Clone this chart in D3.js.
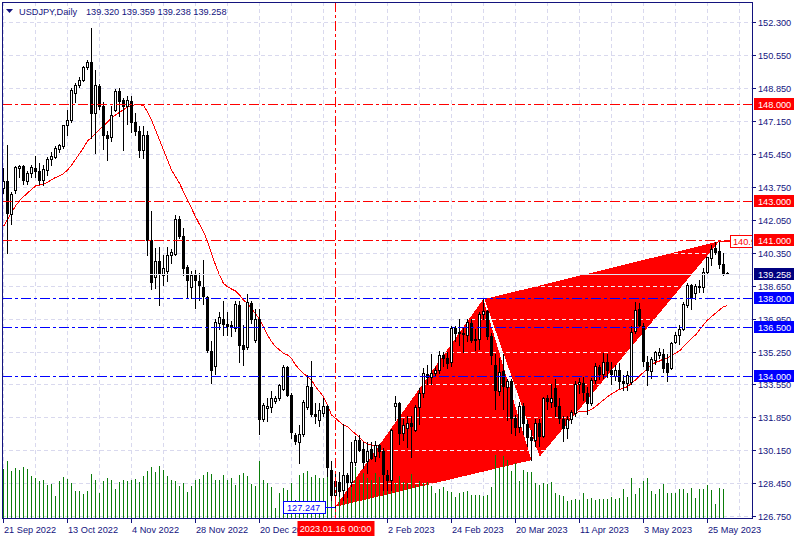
<!DOCTYPE html>
<html><head><meta charset="utf-8">
<script src="https://cdn.jsdelivr.net/npm/d3@7"></script>
<style>
html,body{margin:0;padding:0;background:#fff;}
svg{display:block;}
text{font-family:"Liberation Sans",Arial,sans-serif;font-size:9.2px;}
</style></head><body>
<svg id="c" width="798" height="540"></svg>
<script>
// ---------- DATA ----------
const symbolTitle = "USDJPY,Daily";
const dates = [
"2022-09-21","2022-09-22","2022-09-23","2022-09-26","2022-09-27","2022-09-28","2022-09-29","2022-09-30",
"2022-10-03","2022-10-04","2022-10-05","2022-10-06","2022-10-07","2022-10-10","2022-10-11","2022-10-12","2022-10-13","2022-10-14","2022-10-17","2022-10-18","2022-10-19","2022-10-20","2022-10-21","2022-10-24","2022-10-25","2022-10-26","2022-10-27","2022-10-28","2022-10-31",
"2022-11-01","2022-11-02","2022-11-03","2022-11-04","2022-11-07","2022-11-08","2022-11-09","2022-11-10","2022-11-11","2022-11-14","2022-11-15","2022-11-16","2022-11-17","2022-11-18","2022-11-21","2022-11-22","2022-11-23","2022-11-24","2022-11-25","2022-11-28","2022-11-29","2022-11-30",
"2022-12-01","2022-12-02","2022-12-05","2022-12-06","2022-12-07","2022-12-08","2022-12-09","2022-12-12","2022-12-13","2022-12-14","2022-12-15","2022-12-16","2022-12-19","2022-12-20","2022-12-21","2022-12-22","2022-12-23","2022-12-26","2022-12-27","2022-12-28","2022-12-29","2022-12-30",
"2023-01-02","2023-01-03","2023-01-04","2023-01-05","2023-01-06","2023-01-09","2023-01-10","2023-01-11","2023-01-12","2023-01-13","2023-01-16","2023-01-17","2023-01-18","2023-01-19","2023-01-20","2023-01-23","2023-01-24","2023-01-25","2023-01-26","2023-01-27","2023-01-30","2023-01-31",
"2023-02-01","2023-02-02","2023-02-03","2023-02-06","2023-02-07","2023-02-08","2023-02-09","2023-02-10","2023-02-13","2023-02-14","2023-02-15","2023-02-16","2023-02-17","2023-02-20","2023-02-21","2023-02-22","2023-02-23","2023-02-24","2023-02-27","2023-02-28",
"2023-03-01","2023-03-02","2023-03-03","2023-03-06","2023-03-07","2023-03-08","2023-03-09","2023-03-10","2023-03-13","2023-03-14","2023-03-15","2023-03-16","2023-03-17","2023-03-20","2023-03-21","2023-03-22","2023-03-23","2023-03-24","2023-03-27","2023-03-28","2023-03-29","2023-03-30","2023-03-31",
"2023-04-03","2023-04-04","2023-04-05","2023-04-06","2023-04-07","2023-04-10","2023-04-11","2023-04-12","2023-04-13","2023-04-14","2023-04-17","2023-04-18","2023-04-19","2023-04-20","2023-04-21","2023-04-24","2023-04-25","2023-04-26","2023-04-27","2023-04-28",
"2023-05-01","2023-05-02","2023-05-03","2023-05-04","2023-05-05","2023-05-08","2023-05-09","2023-05-10","2023-05-11","2023-05-12","2023-05-15","2023-05-16","2023-05-17","2023-05-18","2023-05-19","2023-05-22","2023-05-23","2023-05-24","2023-05-25","2023-05-26","2023-05-29","2023-05-30","2023-05-31",
"2023-06-01"];

const open = [
143.70,144.05,142.35,143.60,144.70,144.80,144.05,144.45,144.72,144.55,
144.10,144.60,145.15,145.30,145.70,145.85,146.90,147.20,148.55,149.00,
149.25,149.90,150.15,147.55,148.95,147.90,146.40,146.30,147.70,148.70,
148.20,147.90,148.15,147.10,146.60,145.65,146.40,141.00,139.10,139.90,
139.20,139.40,140.20,140.30,142.10,141.20,139.60,138.60,139.25,138.90,
138.60,138.05,135.30,134.50,136.70,136.90,136.65,136.55,136.45,137.65,
135.60,135.50,137.75,135.85,136.90,131.75,132.35,132.40,132.70,132.85,
133.30,134.45,133.00,130.95,130.60,131.00,132.40,133.40,132.05,131.70,
132.10,132.45,129.15,127.85,128.50,128.10,128.90,128.50,129.55,130.70,
130.20,129.60,130.20,129.85,130.45,130.10,128.90,128.65,132.45,132.60,
131.05,131.30,131.55,131.20,132.40,133.10,134.10,133.95,134.15,134.30,
135.05,134.90,134.70,136.45,136.25,136.20,136.10,136.70,135.85,135.90,
137.20,137.35,136.05,134.55,133.20,134.25,133.40,133.75,131.80,131.35,
132.45,131.50,130.85,130.70,131.55,130.90,132.85,132.65,133.35,132.45,
131.75,131.30,131.75,132.10,133.60,133.65,133.10,132.60,133.80,134.45,
134.10,134.70,134.30,134.00,134.30,133.75,133.65,133.70,136.30,137.45,
136.55,134.70,134.25,134.80,135.05,135.10,134.65,134.40,135.75,136.10,
136.40,137.65,138.70,138.25,138.55,138.60,139.35,140.05,140.60,140.45,
139.75,139.320];

const high = [
144.70,145.90,143.45,144.80,144.85,144.85,144.55,144.85,145.35,144.95,
144.85,145.30,145.55,145.85,145.95,146.95,147.70,148.85,149.10,149.40,
149.95,150.30,151.95,149.75,149.05,148.10,146.60,147.90,148.80,148.85,
148.30,148.40,148.40,147.55,146.85,146.85,146.60,142.50,140.60,140.65,
140.20,140.65,140.55,142.30,142.25,141.60,139.70,139.40,139.45,139.30,
139.95,138.10,135.80,136.90,137.30,137.85,137.30,136.80,137.85,137.85,
136.60,138.20,137.85,137.45,137.45,132.60,132.85,133.20,132.95,133.60,
134.55,134.50,133.10,131.05,131.45,132.75,134.05,134.75,132.60,132.60,
132.85,132.50,129.60,128.95,129.05,131.50,129.00,130.60,130.90,130.95,
130.60,130.60,130.60,130.65,130.50,130.30,129.15,131.25,132.95,132.65,
131.75,131.90,131.90,132.50,133.35,134.40,134.55,135.10,134.45,135.30,
135.20,135.25,136.55,136.55,136.90,136.50,136.95,136.95,136.40,137.30,
137.95,137.40,136.20,135.10,134.90,135.10,133.85,133.85,132.00,132.65,
132.60,131.70,131.20,131.75,131.75,132.90,133.00,133.60,133.85,132.85,
131.90,131.90,132.25,133.75,133.90,133.95,133.40,133.90,134.65,134.55,
135.15,135.10,134.70,134.55,134.65,134.05,134.25,136.55,137.80,137.75,
136.70,135.00,134.98,135.27,135.45,135.37,135.10,135.76,136.25,136.60,
137.80,138.76,138.75,138.75,138.95,139.54,140.14,140.75,140.90,140.93,
140.35,139.359];

const low = [
143.40,140.35,141.80,143.40,144.25,143.90,143.90,144.25,144.25,143.90,
143.85,144.35,144.85,145.20,145.55,145.75,146.40,147.10,148.10,148.90,
149.20,149.80,146.25,145.50,147.75,145.70,145.10,146.10,147.65,147.40,
145.65,147.00,146.55,146.40,145.30,145.25,140.20,138.45,138.50,137.65,
138.70,138.90,139.80,140.20,141.10,139.20,138.00,138.00,137.50,137.90,
137.70,135.25,133.65,134.10,136.40,136.10,136.10,136.05,136.30,134.70,
134.55,135.40,136.70,135.75,131.00,131.65,131.65,132.15,132.60,132.75,
133.25,132.95,130.80,130.50,129.50,130.90,132.30,131.95,131.55,131.40,
131.90,128.85,127.60,127.247,127.80,127.60,127.75,128.30,129.40,130.10,
129.25,129.00,129.70,129.60,129.80,128.10,128.10,128.10,131.70,130.50,
130.70,130.35,129.80,131.15,131.50,132.90,133.60,133.60,134.00,134.15,
134.50,134.40,134.50,135.80,135.60,135.25,135.80,135.75,135.35,135.40,
136.90,135.90,134.60,132.30,133.00,132.30,131.70,131.05,130.95,131.10,
131.00,130.40,129.65,130.40,130.40,130.85,132.30,132.40,131.90,131.55,
130.65,130.80,131.55,131.90,133.10,132.75,132.05,132.50,133.65,133.85,
133.90,133.95,133.60,133.80,133.35,133.25,133.25,133.60,136.20,136.55,
134.50,133.50,133.90,134.60,134.90,134.20,133.75,134.35,135.70,135.65,
136.35,137.55,137.45,137.95,138.30,138.30,139.30,139.70,140.30,139.55,
139.20,139.238];

const close = [
144.05,142.37,143.35,144.75,144.80,144.10,144.45,144.75,144.55,144.10,
144.65,145.15,145.35,145.75,145.90,146.90,147.20,148.75,149.00,149.25,
149.90,150.15,147.55,149.00,147.90,146.40,146.25,147.45,148.70,148.15,
147.90,148.20,147.10,146.60,145.65,146.40,141.00,138.85,139.90,139.30,
139.55,140.20,140.40,142.10,141.20,139.55,138.95,139.20,138.95,138.70,
138.10,135.35,134.30,136.75,137.05,136.65,136.55,136.60,137.70,135.60,
135.40,137.80,136.95,136.90,131.75,132.50,132.45,132.85,132.85,133.50,
134.45,133.00,131.10,130.65,131.00,132.65,133.45,132.05,131.90,132.25,
132.45,129.30,127.85,128.55,128.05,128.90,128.50,129.55,130.70,130.15,
129.55,130.10,129.75,130.45,130.10,128.95,128.65,131.20,132.60,131.05,
131.45,131.55,131.40,132.40,133.10,134.15,133.95,134.15,134.30,135.05,
134.90,134.65,136.45,136.20,136.20,136.15,136.75,135.85,135.90,137.20,
137.35,136.05,135.05,133.25,134.20,133.45,133.75,131.80,131.35,132.45,
131.55,130.85,130.70,131.55,130.90,132.85,132.70,132.85,132.45,131.80,
131.30,131.75,132.15,133.60,133.70,133.15,132.60,133.80,134.50,134.10,
134.70,134.30,134.10,134.30,133.75,133.65,134.05,136.25,137.40,136.60,
134.75,134.30,134.85,135.20,135.25,134.40,134.20,135.70,136.10,136.40,
137.70,138.70,138.00,138.65,138.63,139.35,140.10,140.55,140.40,139.75,
139.30,139.258];

// tick volume (read as bar heights, arbitrary units)
const volume = [
50,58,48,51,49,52,50,43,41,38, 39,34,35,23,38,42,40,36,28,28,
25,28,45,39,26,38,41,39,30,37, 39,38,39,40,37,43,48,52,47,53,
49,43,39,38,33,36,27,33,39,40, 44,47,45,39,39,44,39,41,34,44,
46,43,35,33,58,39,36,32,11,26, 31,29,36,19,44,46,48,42,44,41,
41,44,49,47,39,54,39,46,52,39, 46,41,39,46,42,37,37,39,36,43,
37,36,45,34,38,36,37,33,26,30, 32,28,27,22,26,27,28,24,24,24,
23,24,32,64,51,63,59,48,56,38, 49,47,47,36,34,36,35,37,26,24,
23,18,19,20,19,26,20,21,19,20, 20,20,22,20,21,30,22,41,25,31,
38,41,28,25,30,35,26,26,26,30, 30,26,31,21,30,30,34,29,15,31,
30,1];

// moving average (red line); null where it runs hidden under the pattern
const maValues = [
141.70,142.05,142.40,142.75,143.02,143.23,143.42,143.60,143.78,143.83,
143.88,143.97,144.10,144.22,144.30,144.42,144.60,144.85,145.15,145.45,
145.75,146.10,146.28,146.50,146.68,146.88,147.08,147.27,147.44,147.58,
147.72,147.84,147.92,147.98,147.97,147.93,147.60,147.18,146.67,146.15,
145.64,145.12,144.61,144.26,143.92,143.49,143.06,142.63,142.20,141.80,
141.43,140.91,140.31,139.71,139.19,138.76,138.59,138.47,138.37,138.16,
137.90,137.73,137.47,137.20,136.90,136.50,136.10,135.76,135.50,135.33,
135.16,135.07,134.90,134.55,134.33,134.12,133.95,133.78,133.44,133.18,
132.92,132.49,131.98,131.81,131.63,131.46,131.38,131.17,131.00,130.83,
130.60,130.48,130.43,130.43,130.40,130.43,null,null,null,null,
null,null,null,null,null,null,null,null,null,null,
null,null,null,null,null,null,null,null,null,null,
null,null,null,null,null,null,null,null,null,null,
null,null,null,null,null,null,null,null,null,null,
null,null,null,132.10,132.15,132.15,132.18,132.27,132.41,132.58,
132.75,132.92,133.06,133.18,133.30,133.36,133.44,133.61,133.78,133.98,
134.18,134.38,134.55,134.69,134.76,134.86,134.93,135.04,135.16,135.28,
135.50,135.72,135.93,136.10,136.36,136.62,136.87,137.05,137.22,137.39,
137.56,137.61];

// price axis
const yTickValues = [152.25,150.55,148.85,147.15,145.45,143.75,142.05,140.35,138.65,136.95,135.25,133.55,131.85,130.15,128.45,126.75];
const yTickLabels = ["152.300","150.550","148.850","147.150","145.450","143.750","142.050","140.350","138.650","136.950","135.250","133.550","131.850","130.150","128.450","126.750"];
// time axis
const xTickDates = ["2022-09-21","2022-10-13","2022-11-04","2022-11-28","2022-12-20","2023-02-02","2023-02-24","2023-03-20","2023-04-11","2023-05-03","2023-05-25"];
const xTickLabels = ["21 Sep 2022","13 Oct 2022","4 Nov 2022","28 Nov 2022","20 Dec 2022","2 Feb 2023","24 Feb 2023","20 Mar 2023","11 Apr 2023","3 May 2023","25 May 2023"];

// horizontal levels
const redLevels = [148.0, 143.0, 141.0];
const blueLevels = [138.0, 136.5, 134.0];
const redLevelLabels = ["148.000","143.000","141.000"];
const blueLevelLabels = ["138.000","136.500","134.000"];

// vertical line
const vlineDate = "2023-01-16";
const vlineLabel = "2023.01.16 00:00";

// pattern triangles (bar index, price)
const tri1Bars = [83, 120, 132];
const tri1Prices = [127.247, 137.95, 129.65];
const tri2Bars = [120.3, 179, 134.1];
const tri2Prices = [137.95, 140.93, 129.83];

// price labels
const leftLabelBar = 83, leftLabelPrice = 127.247, leftLabelText = "127.247";
const rightLabelBar = 179, rightLabelPrice = 140.93, rightLabelText = "140.930";

// ---------- DRAW ----------
const n = dates.length;
const PL = 2, PR = 752, PT = 2, PB = 519;
const navy = "#13137e";
const x = d3.scaleLinear().domain([0, n - 1]).range([3.3, 3.3 + 4 * (n - 1)]);
const y = d3.scaleLinear().domain([126.75, 152.25]).range([516.4, 21.7]);
const vy = d3.scaleLinear().domain([0, 100]).range([PB, PB - 100]);
const idxOf = d => dates.indexOf(d);
const px = i => Math.round(x(i));
const py = p => Math.round(y(p));

const svg = d3.select("#c");
svg.append("rect").attr("width", 798).attr("height", 540).attr("fill", "#fff");
const defs = svg.append("defs");
defs.append("clipPath").attr("id", "plotClip").append("rect")
  .attr("x", PL).attr("y", PT).attr("width", PR - PL).attr("height", PB - PT);

const triangles = [
  tri1Bars.map((b, k) => [b, tri1Prices[k]]),
  tri2Bars.map((b, k) => [b, tri2Prices[k]])
];
const triPath = t => d3.line()(t.map(([b, p]) => [x(b), y(p)])) + "Z";
const triClip = defs.append("clipPath").attr("id", "triClip");
triangles.forEach(t => triClip.append("path").attr("d", triPath(t)));

const g = svg.append("g").attr("clip-path", "url(#plotClip)");

// grid
const gridColor = "#d9d9ee";
const gridG = g.append("g").attr("shape-rendering", "crispEdges");
yTickValues.forEach(v => {
  const yy = py(v) + 0.5;
  gridG.append("line").attr("x1", PL).attr("x2", PR).attr("y1", yy).attr("y2", yy)
    .attr("stroke", gridColor).attr("stroke-dasharray", "4,3");
});
for (let i = 0; x(i) < PR; i += 8) {
  const xx = px(i) + 0.5;
  gridG.append("line").attr("x1", xx).attr("x2", xx).attr("y1", PT).attr("y2", PB)
    .attr("stroke", gridColor).attr("stroke-dasharray", "4,3");
}

// moving average (under the pattern)
const maLine = d3.line().defined(d => d != null)
  .x((d, i) => px(i) + 0.5).y(d => y(d));
g.append("path").attr("d", maLine(maValues)).attr("fill", "none")
  .attr("stroke", "#ff0000").attr("stroke-width", 1).attr("shape-rendering", "crispEdges");

// pattern triangles
triangles.forEach(t => g.append("path").attr("d", triPath(t)).attr("fill", "#ff0000")
  .attr("shape-rendering", "crispEdges"));

// horizontal grid seen over the pattern
const gOver = g.append("g").attr("clip-path", "url(#triClip)").attr("shape-rendering", "crispEdges");
yTickValues.forEach(v => {
  const yy = py(v) + 0.5;
  gOver.append("line").attr("x1", PL).attr("x2", PR).attr("y1", yy).attr("y2", yy)
    .attr("stroke", "#f4eef6").attr("stroke-dasharray", "4,3");
});

// volumes
g.append("g").attr("shape-rendering", "crispEdges").selectAll("rect").data(volume).join("rect")
  .attr("x", (d, i) => px(i)).attr("width", 1)
  .attr("y", d => Math.round(vy(d))).attr("height", d => PB - Math.round(vy(d)))
  .attr("fill", "#0b7d0b");

// candles
const cg = g.append("g").attr("shape-rendering", "crispEdges");
for (let i = 0; i < n; i++) {
  const cx = px(i);
  const yH = py(high[i]), yL = py(low[i]), yO = py(open[i]), yC = py(close[i]);
  cg.append("rect").attr("x", cx).attr("y", yH).attr("width", 1).attr("height", Math.max(1, yL - yH + 1)).attr("fill", "#000");
  const top = Math.min(yO, yC), bot = Math.max(yO, yC);
  cg.append("rect").attr("x", cx - 1).attr("y", top).attr("width", 3).attr("height", bot - top + 1).attr("fill", "#000");
  if (close[i] > open[i] && bot - top > 1) {
    cg.append("rect").attr("x", cx).attr("y", top + 1).attr("width", 1).attr("height", bot - top - 1).attr("fill", "#fff");
  }
}

// bid line
const bid = close[n - 1];
g.append("line").attr("x1", PL).attr("x2", PR).attr("y1", py(bid) + 0.5).attr("y2", py(bid) + 0.5)
  .attr("stroke", "#e2e2ee").attr("shape-rendering", "crispEdges");

// level lines
const dashDot = "10,3,3,3";
redLevels.forEach(v => g.append("line").attr("x1", PL).attr("x2", PR)
  .attr("y1", py(v) + 0.5).attr("y2", py(v) + 0.5).attr("stroke", "#ff0000")
  .attr("stroke-dasharray", dashDot).attr("shape-rendering", "crispEdges"));
blueLevels.forEach(v => g.append("line").attr("x1", PL).attr("x2", PR)
  .attr("y1", py(v) + 0.5).attr("y2", py(v) + 0.5).attr("stroke", "#0000ff")
  .attr("stroke-dasharray", dashDot).attr("shape-rendering", "crispEdges"));

// vertical line
const vx = px(idxOf(vlineDate)) + 0.5;
g.append("line").attr("x1", vx).attr("x2", vx).attr("y1", PT).attr("y2", PB)
  .attr("stroke", "#ff0000").attr("stroke-dasharray", dashDot).attr("shape-rendering", "crispEdges");

// left price label
{
  const ax = x(leftLabelBar), ay = py(leftLabelPrice);
  const bx = Math.round(ax) - 52, bw = 42;
  g.append("line").attr("x1", bx + bw).attr("x2", Math.round(ax)).attr("y1", ay + 0.5).attr("y2", ay + 0.5)
    .attr("stroke", "#0000ff").attr("shape-rendering", "crispEdges");
  g.append("rect").attr("x", bx + 0.5).attr("y", ay - 5.5).attr("width", bw).attr("height", 12)
    .attr("fill", "#fff").attr("stroke", "#0000ff").attr("shape-rendering", "crispEdges");
  g.append("text").attr("x", bx + 4).attr("y", ay + 4).attr("fill", "#0000ff").text(leftLabelText);
}
// right price label
{
  const ax = Math.round(x(rightLabelBar)), ay = py(rightLabelPrice);
  const bx = ax + 11;
  g.append("line").attr("x1", ax).attr("x2", bx).attr("y1", ay + 0.5).attr("y2", ay + 0.5)
    .attr("stroke", "#ff0000").attr("shape-rendering", "crispEdges");
  g.append("rect").attr("x", bx + 0.5).attr("y", ay - 5.5).attr("width", 42).attr("height", 12)
    .attr("fill", "#fff").attr("stroke", "#ff0000").attr("shape-rendering", "crispEdges");
  g.append("text").attr("x", bx + 3).attr("y", ay + 4).attr("fill", "#ff0000").text(rightLabelText);
}

// frame
svg.append("rect").attr("x", PL + 0.5).attr("y", PT + 0.5).attr("width", PR - PL).attr("height", PB - PT - 1)
  .attr("fill", "none").attr("stroke", navy).attr("shape-rendering", "crispEdges");

// right axis
const ax = svg.append("g");
yTickValues.forEach((v, k) => {
  const yy = py(v);
  ax.append("line").attr("x1", PR).attr("x2", PR + 4).attr("y1", yy + 0.5).attr("y2", yy + 0.5)
    .attr("stroke", navy).attr("shape-rendering", "crispEdges");
  ax.append("text").attr("x", 758).attr("y", yy + 3.5).attr("fill", navy).text(yTickLabels[k]);
});
function levelLabel(v, txt, fill) {
  const yy = py(v);
  ax.append("rect").attr("x", 754).attr("y", yy - 6).attr("width", 40).attr("height", 12).attr("fill", fill);
  ax.append("text").attr("x", 758).attr("y", yy + 3.5).attr("fill", "#fff").text(txt);
}
redLevels.forEach((v, k) => levelLabel(v, redLevelLabels[k], "#ff0000"));
blueLevels.forEach((v, k) => levelLabel(v, blueLevelLabels[k], "#0000ff"));
levelLabel(bid, bid.toFixed(3), "#000080");

// bottom axis
xTickDates.forEach((d, k) => {
  const xx = px(idxOf(d));
  ax.append("line").attr("x1", xx + 0.5).attr("x2", xx + 0.5).attr("y1", PB).attr("y2", PB + 4)
    .attr("stroke", navy).attr("shape-rendering", "crispEdges");
  ax.append("text").attr("x", xx + 1).attr("y", 533).attr("fill", navy).text(xTickLabels[k]);
});
// vertical line label
ax.append("rect").attr("x", vx - 38).attr("y", 521).attr("width", 77).attr("height", 15).attr("fill", "#ff0000");
ax.append("text").attr("x", vx).attr("y", 532).attr("text-anchor", "middle").attr("fill", "#fff").text(vlineLabel);

// header
svg.append("path").attr("d", "M6,9 L13,9 L9.5,13 Z").attr("fill", navy);
svg.append("text").attr("x", 19).attr("y", 14.5).attr("fill", navy).text(symbolTitle);
svg.append("text").attr("x", 86).attr("y", 14.5).attr("fill", navy)
  .text([open[n-1], high[n-1], low[n-1], close[n-1]].map(v => v.toFixed(3)).join(" "));
</script>
</body></html>
